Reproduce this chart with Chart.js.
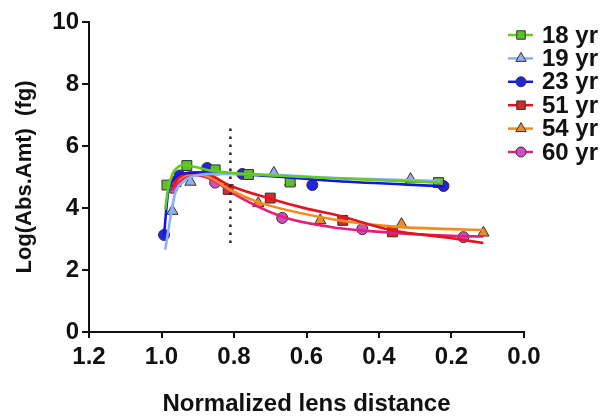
<!DOCTYPE html>
<html>
<head>
<meta charset="utf-8">
<script src="https://cdn.jsdelivr.net/npm/chart.js@4/dist/chart.umd.min.js"></script>
<style>
  html, body { margin: 0; padding: 0; background: #fff; overflow: hidden; }
  #wrap { width: 613px; height: 419px; }
  canvas { display: block; }
</style>
</head>
<body>
<div id="wrap"><canvas id="c"></canvas></div>
<script>
// series labels and styles
const labels = ['18 yr', '19 yr', '23 yr', '51 yr', '54 yr', '60 yr'];
const lineColors = ['#5fcc1e', '#8fb0f0', '#1414e6', '#e3141e', '#f58a1c', '#e0207e'];
const fillColors = ['#5fbf2a', '#8fb0f0', '#2323e0', '#d42a2a', '#ef8a2a', '#d04cc0'];
const styles = ['rect', 'triangle', 'circle', 'rect', 'triangle', 'circle'];

// measured points [distance, log amount]
const pts18 = [[0.985, 4.74], [0.93, 5.37], [0.852, 5.23], [0.76, 5.08], [0.645, 4.84], [0.236, 4.82]];
const pts19 = [[0.97, 3.9], [0.92, 4.84], [0.69, 5.13], [0.645, 4.84], [0.313, 4.93]];
const pts23 = [[0.993, 3.13], [0.95, 5.05], [0.874, 5.29], [0.777, 5.1], [0.584, 4.74], [0.222, 4.71]];
const pts51 = [[0.96, 4.85], [0.816, 4.6], [0.7, 4.32], [0.5, 3.6], [0.363, 3.23]];
const pts54 = [[0.733, 4.15], [0.562, 3.6], [0.338, 3.48], [0.112, 3.2]];
const pts60 = [[0.97, 4.65], [0.852, 4.82], [0.667, 3.68], [0.446, 3.32], [0.167, 3.06]];

// fitted curves
const fit18 = [[0.99, 3.94], [0.982, 4.6], [0.97, 5.1], [0.957, 5.3], [0.94, 5.39], [0.91, 5.33], [0.87, 5.22], [0.8, 5.13], [0.6, 5.0], [0.4, 4.9], [0.236, 4.82]];
const fit19 = [[0.99, 2.65], [0.962, 4.48], [0.94, 4.84], [0.9, 5.06], [0.85, 5.1], [0.7, 5.07], [0.52, 4.97], [0.23, 4.87]];
const fit23 = [[0.993, 3.13], [0.982, 4.48], [0.968, 4.9], [0.94, 5.12], [0.893, 5.14], [0.788, 5.1], [0.52, 4.87], [0.222, 4.7]];
const fit51 = [[0.97, 4.7], [0.95, 5.0], [0.91, 5.15], [0.87, 5.08], [0.81, 4.72], [0.7, 4.3], [0.6, 3.98], [0.507, 3.74], [0.368, 3.29], [0.203, 3.03], [0.112, 2.87]];
const fit54 = [[0.97, 4.75], [0.94, 5.02], [0.9, 5.1], [0.86, 4.95], [0.81, 4.58], [0.733, 4.19], [0.52, 3.62], [0.35, 3.39], [0.2, 3.32], [0.112, 3.29]];
const fit60 = [[0.97, 4.6], [0.94, 4.95], [0.9, 5.05], [0.85, 4.85], [0.81, 4.52], [0.667, 3.72], [0.534, 3.39], [0.443, 3.27], [0.2, 3.1], [0.112, 3.08]];

// dotted marker line
const cutoff = [[0.81, 2.87], [0.81, 6.58]];

const xTicks = [1.2, 1.0, 0.8, 0.6, 0.4, 0.2, 0.0];
const yTicks = [0, 2, 4, 6, 8, 10];

const pts = [pts18, pts19, pts23, pts51, pts54, pts60];
const fits = [fit18, fit19, fit23, fit51, fit54, fit60];
const toXY = arr => arr.map(p => ({ x: p[0], y: p[1] }));

const datasets = [];
fits.forEach((f, i) => {
  datasets.push({
    label: labels[i] + ' fit',
    data: toXY(f),
    borderColor: lineColors[i],
    borderWidth: 2.6,
    pointRadius: 0,
    cubicInterpolationMode: 'monotone',
    order: 1
  });
});
pts.forEach((p, i) => {
  datasets.push({
    label: labels[i],
    data: toXY(p),
    showLine: false,
    pointStyle: styles[i],
    pointRadius: styles[i] === 'circle' ? 5.5 : (styles[i] === 'rect' ? 7 : 6.5),
    pointBackgroundColor: fillColors[i],
    pointBorderColor: '#333',
    pointBorderWidth: 1,
    order: 2
  });
});
datasets.push({
  label: 'cutoff',
  data: toXY(cutoff),
  borderColor: '#222',
  borderWidth: 2.5,
  borderDash: [2.5, 5.5],
  pointRadius: 0,
  order: 0
});

// legend at the top right, line + marker + text
const sideLegend = {
  id: 'sideLegend',
  afterDraw(chart) {
    const ctx = chart.ctx;
    ctx.save();
    labels.forEach((lab, i) => {
      const y = 35 + i * 23.4;
      ctx.strokeStyle = lineColors[i];
      ctx.lineWidth = 2.5;
      ctx.beginPath();
      ctx.moveTo(508, y);
      ctx.lineTo(533, y);
      ctx.stroke();
      ctx.fillStyle = fillColors[i];
      ctx.strokeStyle = '#333';
      ctx.lineWidth = 1;
      Chart.helpers.drawPoint(ctx, {
        pointStyle: styles[i],
        radius: styles[i] === 'circle' ? 5 : 6,
        rotation: 0,
        borderWidth: 1
      }, 521, y);
      ctx.fillStyle = '#111';
      ctx.font = 'bold 24px "Liberation Sans", Arial, sans-serif';
      ctx.textBaseline = 'middle';
      ctx.textAlign = 'left';
      ctx.fillText(lab, 542, y + 1);
    });
    ctx.restore();
  }
};

const font = { family: '"Liberation Sans", Arial, sans-serif', weight: 'bold' };

new Chart(document.getElementById('c'), {
  type: 'line',
  data: { datasets: datasets },
  plugins: [sideLegend],
  options: {
    responsive: true,
    maintainAspectRatio: false,
    animation: false,
    layout: { padding: { top: 22, right: 89, left: 0, bottom: 0 } },
    plugins: {
      legend: { display: false },
      tooltip: { enabled: false }
    },
    scales: {
      x: {
        type: 'linear',
        reverse: true,
        min: 0,
        max: 1.2,
        afterFit: s => { s.height = 87; },
        afterBuildTicks: s => { s.ticks = xTicks.map(v => ({ value: v })); },
        ticks: {
          color: '#111',
          font: { ...font, size: 24 },
          padding: 5,
          callback: v => v.toFixed(1)
        },
        grid: { drawOnChartArea: false, color: '#111', lineWidth: 2, tickLength: 6 },
        border: { color: '#111', width: 2 },
        title: {
          display: true,
          text: 'Normalized lens distance',
          color: '#111',
          font: { ...font, size: 24 },
          padding: { top: 8, bottom: 0 }
        }
      },
      y: {
        min: 0,
        max: 10,
        afterFit: s => { s.width = 89; },
        afterBuildTicks: s => { s.ticks = yTicks.map(v => ({ value: v })); },
        ticks: {
          color: '#111',
          font: { ...font, size: 24 },
          padding: 3
        },
        grid: { drawOnChartArea: false, color: '#111', lineWidth: 2, tickLength: 7 },
        border: { color: '#111', width: 2 },
        title: {
          display: true,
          text: 'Log(Abs.Amt)  (fg)',
          color: '#111',
          font: { ...font, size: 22 },
          padding: { top: 12, bottom: 0 }
        }
      }
    }
  }
});
</script>
</body>
</html>
